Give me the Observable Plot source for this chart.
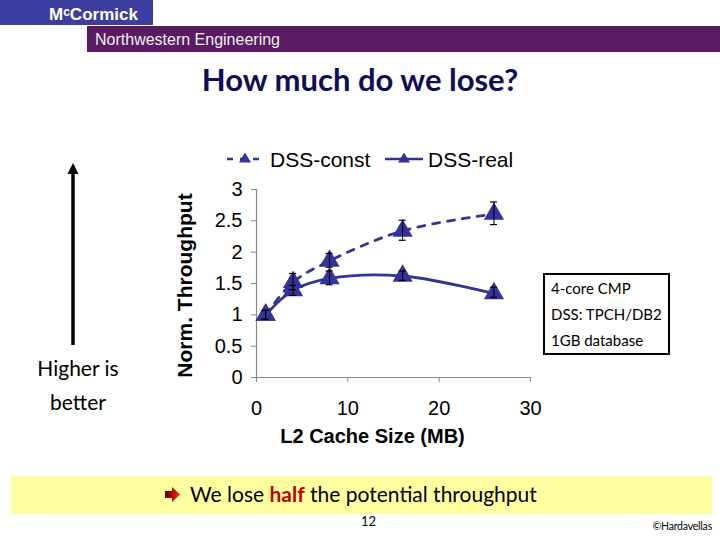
<!DOCTYPE html>
<html>
<head>
<meta charset="utf-8">
<script src="https://cdn.jsdelivr.net/npm/d3@7"></script>
<script src="https://cdn.jsdelivr.net/npm/@observablehq/plot@0.6"></script>
<style>
  html, body { margin: 0; padding: 0; background: #fff; }
  #page { position: relative; width: 720px; height: 540px; overflow: hidden; background: #fff; font-family: Lato, "Open Sans", sans-serif; }
  .abs { position: absolute; }
  #mcc { left: 0; top: 0; width: 153px; height: 25px; background: #3B3E9E; color: #fff; font: bold 17px "Liberation Sans", Arial, sans-serif; line-height: 25px; }
  #mcc span { position: absolute; left: 49px; top: 0; }
  #nw { left: 87px; top: 26px; width: 633px; height: 26px; background: #5A1B62; color: #eee; font: 16px "Liberation Sans", Arial, sans-serif; line-height: 26px; }
  #nw span { position: absolute; left: 8px; top: 1px; }
  #title { left: 0; top: 60px; width: 720px; text-align: center; font: bold 31px Lato, sans-serif; color: #0E0E58; }
  #note { left: 543px; top: 273px; width: 117px; height: 78px; border: 2px solid #000; font: 15px Lato, sans-serif; line-height: 26px; color: #000; padding: 0 0 0 6px; box-sizing: content-box; white-space: nowrap; }
  #higher { left: 18px; top: 351px; width: 120px; text-align: center; font: 21px Lato, sans-serif; line-height: 34px; color: #000; }
  #banner { left: 11px; top: 476px; width: 701px; height: 38px; background: #FFFFA0; }
  #banner .txt { position: absolute; left: 179px; top: 5px; font: 21px Lato, sans-serif; color: #000; white-space: nowrap; }
  #banner .txt b { color: #C00000; }
  #pg { left: 361px; top: 513px; font: 13px Lato, sans-serif; color: #000; }
  #copy { right: 8px; top: 520px; font: 10.5px Lato, sans-serif; color: #000; white-space: nowrap; letter-spacing: -0.2px; }
  #chart { left: 170px; top: 140px; }
  #legend { left: 170px; top: 140px; }
</style>
</head>
<body>
<div id="page">
  <div id="mcc" class="abs"><span>M<sup style="font-size:12px;vertical-align:4px">c</sup>Cormick</span></div>
  <div id="nw" class="abs"><span>Northwestern Engineering</span></div>
  <div id="title" class="abs">How much do we lose?</div>
  <svg class="abs" style="left:60px;top:158px" width="28" height="192">
    <line x1="13" y1="14" x2="13" y2="187" stroke="#000" stroke-width="3.5"/>
    <path d="M13,5 L18.5,16 L7.5,16 Z" fill="#000"/>
  </svg>
  <div id="higher" class="abs">Higher is<br>better</div>
  <div id="note" class="abs">4-core CMP<br>DSS: TPCH/DB2<br>1GB database</div>
  <div id="chart" class="abs"></div>
  <svg id="legend" class="abs" width="370" height="40" style="font-family:'Liberation Sans',Arial,sans-serif;font-size:21px">
    <line x1="57" y1="19" x2="93" y2="19" stroke="#333399" stroke-width="2.5" stroke-dasharray="6,7"/>
    <path d="M75,12.5 L81,22.5 L69,22.5 Z" fill="#333399"/>
    <text x="100" y="26.5" fill="#000">DSS-const</text>
    <line x1="215" y1="19" x2="253" y2="19" stroke="#333399" stroke-width="2.5"/>
    <path d="M234,12.5 L240,22.5 L228,22.5 Z" fill="#333399"/>
    <text x="258" y="26.5" fill="#000">DSS-real</text>
  </svg>
  <div id="banner" class="abs">
    <svg class="abs" style="left:153px;top:11px" width="18" height="16">
      <defs><linearGradient id="rg" x1="0" x2="1"><stop offset="0" stop-color="#600000"/><stop offset="1" stop-color="#FF2020"/></linearGradient></defs>
      <path d="M1,4 L8,4 L8,0 L16,7.5 L8,15 L8,11 L1,11 Z" fill="url(#rg)"/>
    </svg>
    <div class="txt">We lose <b>half</b> the potential throughput</div>
  </div>
  <div id="pg" class="abs">12</div>
  <div id="copy" class="abs">©Hardavellas</div>
</div>
<script>
const cacheSizes = [1, 4, 8, 16, 26];
const constThroughput = [1.0, 1.52, 1.86, 2.34, 2.61];
const constLow = [0.93, 1.40, 1.76, 2.19, 2.44];
const constHigh = [1.07, 1.66, 1.98, 2.51, 2.80];
const realThroughput = [1.0, 1.39, 1.58, 1.62, 1.34];
const realLow = [0.93, 1.31, 1.48, 1.55, 1.28];
const realHigh = [1.07, 1.47, 1.70, 1.70, 1.44];
const xTicks = [0, 10, 20, 30];
const yTicks = [0, 0.5, 1, 1.5, 2, 2.5, 3];
const xLabel = "L2 Cache Size (MB)";
const yLabel = "Norm. Throughput";

const seriesColor = "#333399";
const rows = (vals, lo, hi, name) => cacheSizes.map((x, i) => ({x, y: vals[i], lo: lo[i], hi: hi[i], series: name}));
const constData = rows(constThroughput, constLow, constHigh, "DSS-const");
const realData = rows(realThroughput, realLow, realHigh, "DSS-real");
const allData = constData.concat(realData);

const chart = Plot.plot({
  width: 370,
  height: 310,
  marginLeft: 86,
  marginRight: 10,
  marginTop: 49,
  marginBottom: 73,
  style: {fontFamily: "'Liberation Sans', Arial, sans-serif", fontSize: "20px", color: "#000", background: "transparent", overflow: "visible"},
  x: {domain: [0, 30], label: null},
  y: {domain: [0, 3], label: null},
  marks: [
    Plot.axisX({ticks: xTicks, tickSize: 5, tickPadding: 18, stroke: "#888", fill: "#000", label: null}),
    Plot.axisY({ticks: yTicks, tickSize: 5, tickPadding: 9, stroke: "#888", fill: "#000", label: null, tickFormat: d => String(d)}),
    Plot.ruleY([0], {stroke: "#888", strokeWidth: 1.2}),
    Plot.ruleX([0], {stroke: "#888", strokeWidth: 1.2}),
    Plot.line(constData, {x: "x", y: "y", stroke: seriesColor, strokeWidth: 2.8, strokeDasharray: "7,8", curve: "catmull-rom"}),
    Plot.line(realData, {x: "x", y: "y", stroke: seriesColor, strokeWidth: 2.8, curve: "catmull-rom"}),
    Plot.dot(allData, {x: "x", y: "y", symbol: "triangle", r: 7.5, fill: seriesColor, stroke: "none"}),
    Plot.ruleX(allData, {x: "x", y1: "lo", y2: "hi", stroke: "#000", strokeWidth: 1}),
    Plot.ruleY(allData, {y: "hi", x1: "x", x2: "x", insetLeft: -3.5, insetRight: -3.5, stroke: "#000", strokeWidth: 1.2}),
    Plot.ruleY(allData, {y: "lo", x1: "x", x2: "x", insetLeft: -3.5, insetRight: -3.5, stroke: "#000", strokeWidth: 1.2}),
    Plot.text([xLabel], {frameAnchor: "bottom", textAnchor: "middle", lineAnchor: "middle", dy: 59, dx: -21, fontWeight: "bold", fontSize: 20, fill: "#000"}),
    Plot.text([yLabel], {frameAnchor: "left", textAnchor: "middle", lineAnchor: "middle", dx: -71, dy: 2, rotate: -90, fontWeight: "bold", fontSize: 21, fill: "#000"})
  ]
});
document.getElementById("chart").appendChild(chart);
</script>
</body>
</html>
